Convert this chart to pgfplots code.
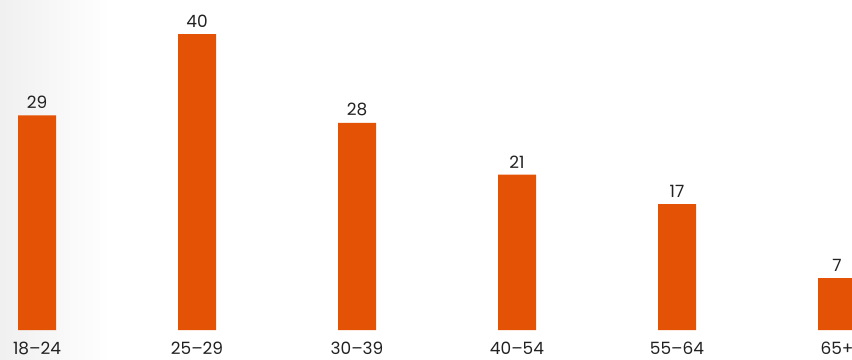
\documentclass[border=0pt]{standalone}
\usepackage{fontspec}
\setmainfont{Poppins}
\usepackage{pgfplots}
\pgfplotsset{compat=1.18}
\definecolor{barorange}{HTML}{E35205}
\definecolor{txt}{HTML}{222222}
\begin{document}
\begin{tikzpicture}
\fill[left color=black!6, right color=white] (0,0) rectangle (110bp,360bp);
\begin{axis}[
  at={(0,30bp)}, anchor=south west,
  scale only axis, width=852bp, height=330bp,
  xmin=-0.23125, xmax=5.09375, ymin=0, ymax=44.6,
  axis line style={draw=none}, tick style={draw=none},
  ytick=\empty,
  xtick={0,1,2,3,4,5},
  xticklabels={18–24,25–29,30–39,40–54,55–64,65+},
  xticklabel style={anchor=base, yshift=-20bp, font=\fontsize{17}{20}\selectfont, text=txt},
  /pgf/number format/assume math mode=true,
  ybar, bar width=38bp,
  nodes near coords,
  every node near coord/.append style={font=\fontsize{17}{20}\selectfont, text=txt, yshift=3bp},
  clip=false,
]
\addplot[fill=barorange, draw=none] coordinates {(0,29) (1,40) (2,28) (3,21) (4,17) (5,7)};
\end{axis}
\pgfresetboundingbox
\path[use as bounding box] (0,0) rectangle (852bp,360bp);
\end{tikzpicture}
\end{document}
